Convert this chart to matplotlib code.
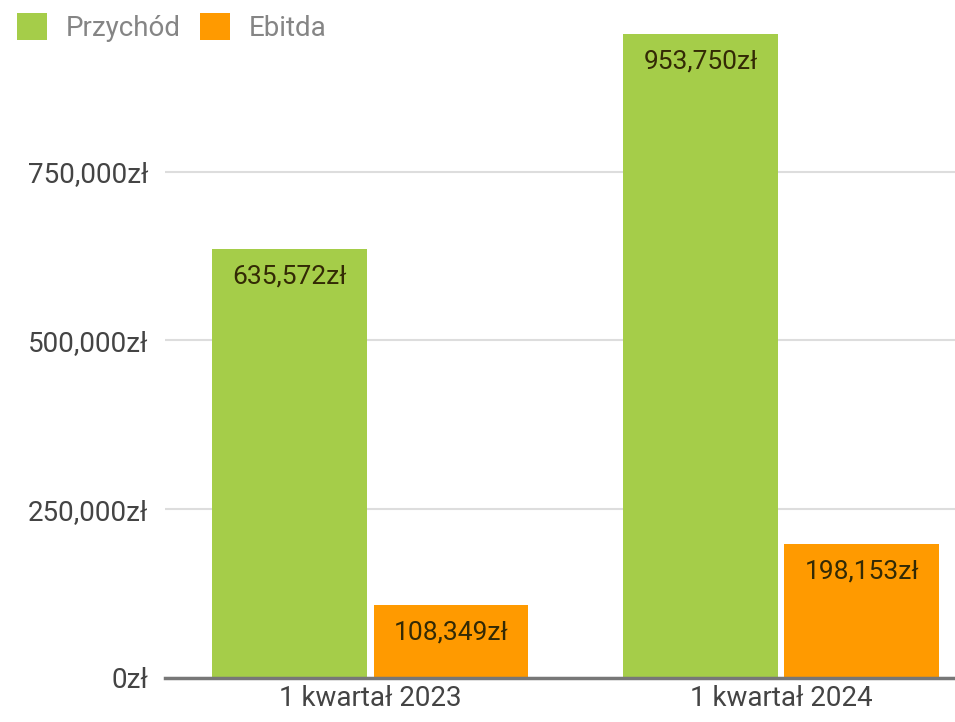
import matplotlib.pyplot as plt
import numpy as np

plt.rcParams['font.family'] = ['Roboto', 'DejaVu Sans']

categories = ["1 kwartał 2023", "1 kwartał 2024"]
przychod = [635572, 953750]
ebitda = [108349, 198153]
y_ticks = [0, 250000, 500000, 750000]


def fmt_zl(v):
    return f"{v:,.0f}zł"


fig = plt.figure(figsize=(9.55, 7.22), dpi=100)
ax = fig.add_axes([0.1728, 0.061, 0.8272, 0.935])

x = np.arange(len(categories))
w = 0.377
gap = 0.0075
b1 = ax.bar(x - w / 2 - gap, przychod, w, color='#a5cd49', label='Przychód', zorder=3)
b2 = ax.bar(x + w / 2 + gap, ebitda, w, color='#ff9a00', label='Ebitda', zorder=3)

for bars in (b1, b2):
    for rect in bars:
        h = rect.get_height()
        ax.annotate(fmt_zl(h), (rect.get_x() + rect.get_width() / 2, h),
                    xytext=(0, -20), textcoords='offset points',
                    ha='center', va='center', fontsize=19, color='#332a05', zorder=4)

ax.set_xlim(-0.5, 1.423)
ax.set_ylim(0, 1000000)
ax.set_yticks(y_ticks)
ax.set_yticklabels([fmt_zl(v) for v in y_ticks])
ax.set_xticks(x)
ax.set_xticklabels(categories)
ax.tick_params(axis='both', length=0, labelsize=20, labelcolor='#444444')
ax.tick_params(axis='y', pad=12)
ax.tick_params(axis='x', pad=5)
ax.grid(axis='y', color='#dddddd', linewidth=1.5, zorder=0)
for s in ['top', 'right', 'left']:
    ax.spines[s].set_visible(False)
ax.spines['bottom'].set_color('#777777')
ax.spines['bottom'].set_linewidth(2.5)
ax.spines['bottom'].set_zorder(5)

fig.legend(loc='upper left', bbox_to_anchor=(0.0, 1.005), ncol=2, frameon=False,
           fontsize=20, labelcolor='#858585', handlelength=1.1, handleheight=1.1,
           handletextpad=0.65, columnspacing=0.7, borderaxespad=0.2)

fig.savefig('out.png', dpi=100)
